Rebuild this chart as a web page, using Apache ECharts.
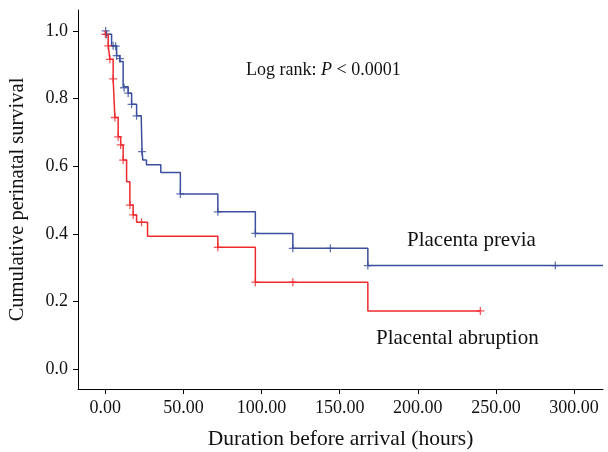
<!DOCTYPE html>
<html>
<head>
<meta charset="UTF-8">
<title>KM survival</title>
<script src="https://cdn.jsdelivr.net/npm/echarts@6/dist/echarts.min.js"></script>
<style>
  html, body { margin: 0; padding: 0; background: #fff; }
  #chart { width: 608px; height: 452px; }
</style>
</head>
<body>
<div id="chart"></div>
<script>
// step curves: [hours, cumulative survival]
var previaCurve = [
  [0, 1.0], [0.8, 0.99], [4.0, 0.956], [7.2, 0.927], [9.3, 0.91],
  [11.4, 0.835], [14.6, 0.816], [16.8, 0.783], [20, 0.749], [23, 0.737],
  [23.5, 0.643], [24, 0.618], [26.3, 0.604], [35.5, 0.581], [48, 0.518],
  [72, 0.465], [96, 0.401], [120, 0.357], [168, 0.306], [318.5, 0.306]
];
var previaCensored = [
  [0.2, 1.0], [0.8, 0.99], [5, 0.956], [6.6, 0.955], [7.2, 0.927], [9.3, 0.918],
  [12, 0.832], [14.6, 0.816], [16.8, 0.783], [20, 0.749], [23.5, 0.643],
  [48, 0.518], [72, 0.465], [96, 0.401], [120, 0.357], [144, 0.357],
  [168, 0.306], [288, 0.306]
];
var abruptionCurve = [
  [0, 1.0], [0.3, 0.988], [1.85, 0.956], [2.9, 0.916], [5.0, 0.858],
  [6.1, 0.744], [8.2, 0.687], [9.8, 0.663], [11.4, 0.618], [13.6, 0.554],
  [15.7, 0.485], [17.8, 0.456], [20, 0.434], [27, 0.393], [72, 0.36],
  [96, 0.257], [168, 0.172], [240, 0.172]
];
var abruptionCensored = [
  [0, 0.99], [1.85, 0.956], [2.9, 0.916], [5.0, 0.858], [6.1, 0.744],
  [8.2, 0.687], [9.8, 0.663], [11.4, 0.618], [15.7, 0.485], [17.8, 0.456],
  [23.2, 0.434], [72, 0.36], [96, 0.257], [120, 0.257], [240, 0.172]
];
var xTicks = [0, 50, 100, 150, 200, 250, 300];
var yTicks = [0, 0.2, 0.4, 0.6, 0.8, 1.0];

var blue = '#3b4f9e';
var red = '#ee2a2e';
var font = 'Liberation Serif';
var plus = 'path://M4.2,0H5.8V4.2H10V5.8H5.8V10H4.2V5.8H0V4.2H4.2Z';

var chart = echarts.init(document.getElementById('chart'), null, { renderer: 'canvas' });

chart.setOption({
  backgroundColor: '#fff',
  animation: false,
  grid: { left: 78, top: 10, right: 5, bottom: 63, outerBoundsMode: 'none', containLabel: false },
  xAxis: {
    type: 'value', min: -17.5, max: 318.5,
    splitLine: { show: false },
    axisLine: { onZero: false, lineStyle: { color: '#000', width: 1 } },
    axisTick: { customValues: xTicks, length: 5, lineStyle: { color: '#000' } },
    axisLabel: {
      customValues: xTicks, margin: 10, color: '#111', fontFamily: font, fontSize: 18,
      formatter: function (v) { return v.toFixed(2); }
    },
    name: 'Duration before arrival (hours)', nameLocation: 'middle', nameGap: 39,
    nameTextStyle: { color: '#111', fontFamily: font, fontSize: 21.5 }
  },
  yAxis: {
    type: 'value', min: -0.059, max: 1.062,
    splitLine: { show: false },
    axisLine: { show: true, onZero: false, lineStyle: { color: '#000', width: 1 } },
    axisTick: { show: true, customValues: yTicks, length: 5, lineStyle: { color: '#000' } },
    axisLabel: {
      customValues: yTicks, margin: 10, color: '#111', fontFamily: font, fontSize: 18,
      formatter: function (v) { return v.toFixed(1); }
    },
    name: 'Cumulative perinatal survival', nameLocation: 'middle', nameGap: 50,
    nameTextStyle: { color: '#111', fontFamily: font, fontSize: 20.5 }
  },
  series: [
    { type: 'line', step: 'end', data: previaCurve, symbol: 'none',
      lineStyle: { color: blue, width: 1.5 }, z: 2 },
    { type: 'line', step: 'end', data: abruptionCurve, symbol: 'none',
      lineStyle: { color: red, width: 1.5 }, z: 3 },
    { type: 'scatter', data: previaCensored, symbol: plus, symbolSize: 8,
      itemStyle: { color: blue }, z: 4 },
    { type: 'scatter', data: abruptionCensored, symbol: plus, symbolSize: 8,
      itemStyle: { color: red }, z: 5 }
  ],
  graphic: [
    { type: 'text', left: 246, top: 61,
      style: {
        text: '{n|Log rank: }{i|P}{n| < 0.0001}',
        rich: {
          n: { fontFamily: font, fontSize: 18, fill: '#111' },
          i: { fontFamily: font, fontSize: 18, fontStyle: 'italic', fill: '#111' }
        }
      } },
    { type: 'text', left: 407, top: 230,
      style: { text: 'Placenta previa', fontFamily: font, fontSize: 21, fill: '#111' } },
    { type: 'text', left: 376, top: 328,
      style: { text: 'Placental abruption', fontFamily: font, fontSize: 21, fill: '#111' } }
  ]
});
</script>
</body>
</html>
